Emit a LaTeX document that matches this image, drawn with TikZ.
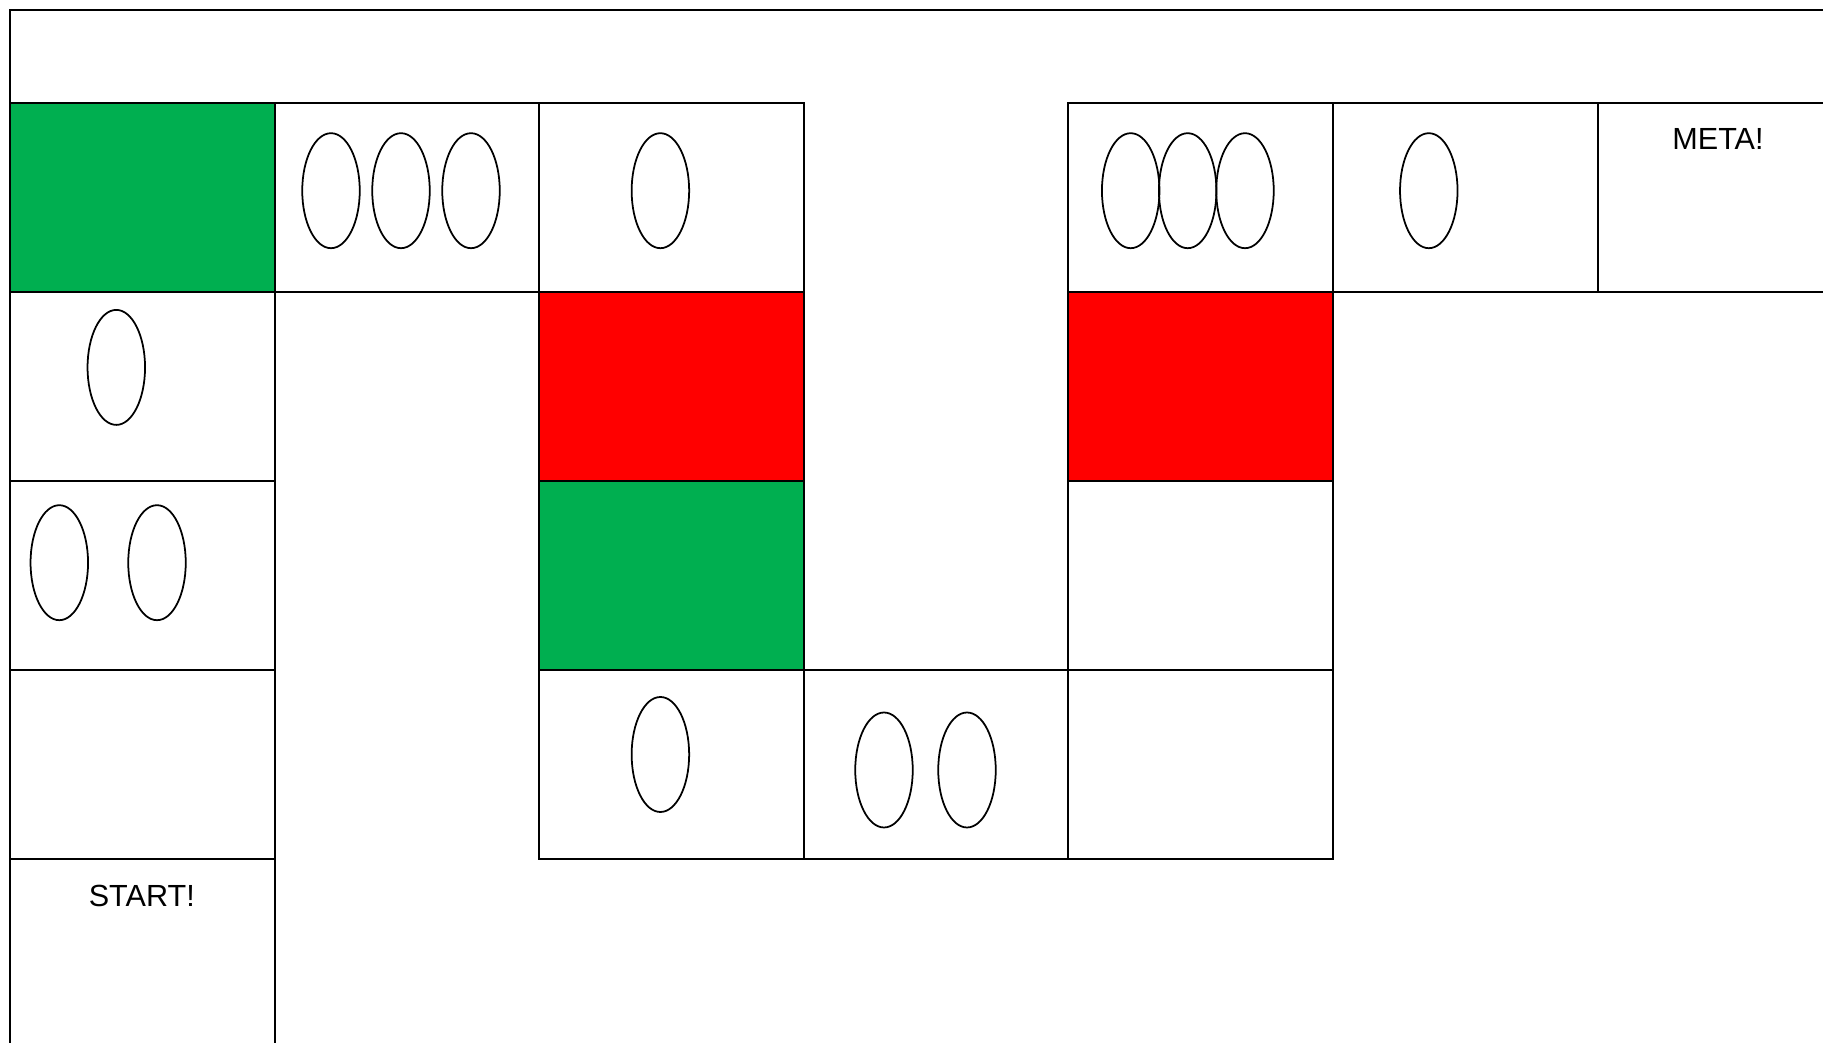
\documentclass[tikz,border=0pt]{standalone}
\usepackage{fontspec}
\setmainfont{Liberation Sans}
\usetikzlibrary{shapes.geometric}
\definecolor{boardgreen}{RGB}{0, 175, 80}
\definecolor{boardred}{RGB}{255, 0, 0}
\tikzset{
  square/.style={draw, rectangle, line width=0.55pt, minimum width=2.646cm, minimum height=1.89cm, inner sep=0pt},
  pawn/.style={draw, ellipse, line width=0.5pt, minimum width=0.575cm, minimum height=1.15cm, inner sep=0pt},
  label/.style={font=\fontsize{8.7}{10.4}\selectfont, inner sep=0pt}
}

\begin{document}
\begin{tikzpicture}
  \useasboundingbox (0, 0) rectangle (18.23, -10.43);
  \clip (0, 0) rectangle (18.23, -10.43);
  % ---------- outer frame ----------
  \draw[line width=0.55pt] (18.5, -0.10) -- (0.10, -0.10) -- (0.10, -10.7);
  % ---------- board squares: name/column/row/fill ----------
  \foreach \nm/\c/\r/\fc in {sq00/0/0/boardgreen, sq10/1/0/white, sq20/2/0/white,
      sq40/4/0/white, sq50/5/0/white, sq60/6/0/white,
      sq01/0/1/white, sq21/2/1/boardred, sq41/4/1/boardred,
      sq02/0/2/white, sq22/2/2/boardgreen, sq42/4/2/white,
      sq03/0/3/white, sq23/2/3/white, sq33/3/3/white, sq43/4/3/white,
      sq04/0/4/white} {
    \node[square, fill=\fc] (\nm) at (1.423+\c*2.646, -1.975-\r*1.89) {};
  }
  % ---------- pawns ----------
  \foreach \nm/\x/\y in {p1/3.31/1.907, p2/4.01/1.907, p3/4.71/1.907,
      p4/6.604/1.907,
      p5/11.307/1.907, p6/11.877/1.907, p7/12.45/1.907,
      p8/14.288/1.907,
      p9/1.163/3.674,
      p10/0.593/5.627, p11/1.57/5.627,
      p12/6.604/7.545,
      p13/8.84/7.70, p14/9.67/7.70} {
    \node[pawn] (\nm) at (\x, -\y) {};
  }
  % ---------- labels ----------
  \node[label] (meta) at (17.18, -1.39) {META!};
  \node[label] (start) at (1.418, -8.96) {START!};
\end{tikzpicture}
\end{document}
